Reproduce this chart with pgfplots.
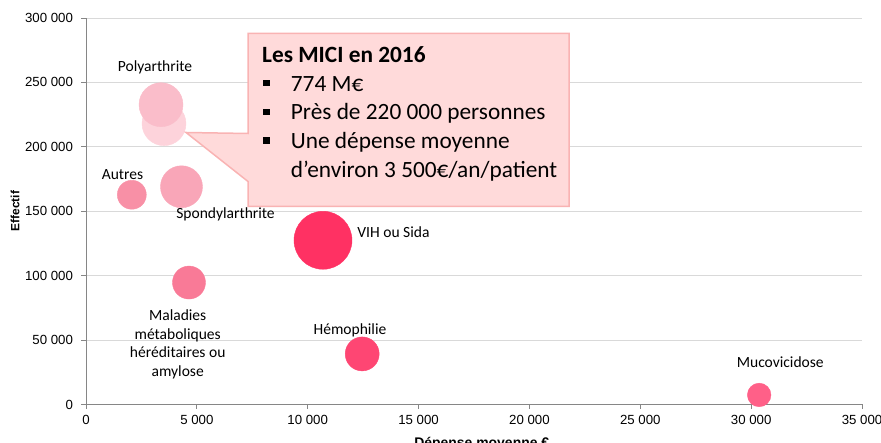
\documentclass[border=0pt]{standalone}
\usepackage{fontspec}
\setmainfont{Liberation Sans}
\newfontfamily\calibri{Carlito}
\usepackage{pgfplots}
\pgfplotsset{compat=1.18}
\definecolor{axisgray}{HTML}{868686}
\definecolor{gridgray}{HTML}{D9D9D9}
\definecolor{cMICI}{HTML}{FDD3DB}
\definecolor{cPoly}{HTML}{FABDCA}
\definecolor{cSpondy}{HTML}{F9A6B8}
\definecolor{cAutres}{HTML}{F890A6}
\definecolor{cMalad}{HTML}{F97A97}
\definecolor{cMuco}{HTML}{FF6088}
\definecolor{cHemo}{HTML}{FE4673}
\definecolor{cVIH}{HTML}{FF3163}
\definecolor{calloutfill}{HTML}{FFDADA}
\definecolor{calloutdraw}{HTML}{F9B3B3}
\newcommand{\labfont}{\calibri\fontsize{15.6}{18.7}\selectfont}
\newcommand{\callfont}{\calibri\fontsize{23.4}{28.7}\selectfont}
\pgfplotsset{bubble/.style={only marks, mark=*, mark size=#1}}
\begin{document}
\begin{tikzpicture}[x=1bp,y=1bp]
\begin{axis}[at={(0,0)}, anchor=south west, scale only axis,
  width=776bp, height=386.5bp,
  xmin=0, xmax=35000, ymin=0, ymax=300000,
  xtick={0,5000,10000,15000,20000,25000,30000,35000},
  xticklabels={0,5 000,10 000,15 000,20 000,25 000,30 000,35 000},
  ytick={0,50000,100000,150000,200000,250000,300000},
  yticklabels={0,50 000,100 000,150 000,200 000,250 000,300 000},
  scaled ticks=false,
  axis x line*=bottom, axis y line*=left,
  axis line style={draw=axisgray, line width=0.75bp},
  ymajorgrids, grid style={draw=gridgray, line width=0.75bp},
  tick align=outside, major tick length=4.5bp,
  tick style={draw=axisgray, line width=0.75bp},
  tick label style={font=\fontsize{13.3}{15}\selectfont},
  yticklabel style={xshift=-5bp},
  xticklabel style={yshift=-3bp},
  xlabel={\textbf{Dépense moyenne €}},
  ylabel={\textbf{Effectif}},
  xlabel style={font=\fontsize{14}{16}\selectfont, at={(axis description cs:0.51,-0.0833)}, anchor=north, inner sep=0pt},
  ylabel style={font=\fontsize{12}{14}\selectfont, at={(axis description cs:-0.0915,0.5)}, anchor=center, inner sep=0pt},
  clip=false,
]
\addplot[bubble=22bp, color=cMICI] coordinates {(3518,218000)};
\addplot[bubble=22bp, color=cPoly] coordinates {(3383,232700)};
\addplot[bubble=14.5bp, color=cAutres] coordinates {(2066,162800)};
\addplot[bubble=21bp, color=cSpondy] coordinates {(4307,169000)};
\addplot[bubble=16.5bp, color=cMalad] coordinates {(4645,94660)};
\addplot[bubble=29bp, color=cVIH] coordinates {(10689,127460)};
\addplot[bubble=17bp, color=cHemo] coordinates {(12457,39250)};
\addplot[bubble=11.8bp, color=cMuco] coordinates {(30362,7400)};
\node[anchor=base, inner sep=0pt, font=\labfont] at (axis cs:3112,258650) {Polyarthrite};
\node[anchor=base, inner sep=0pt, font=\labfont] at (axis cs:1646,174500) {Autres};
\node[anchor=base, inner sep=0pt, font=\labfont] at (axis cs:6292,144700) {Spondylarthrite};
\node[anchor=base west, inner sep=0pt, font=\labfont] at (axis cs:12233,129640) {VIH ou Sida};
\node[anchor=base, inner sep=0pt, font=\labfont] at (axis cs:11906,54000) {Hémophilie};
\node[anchor=base, inner sep=0pt, font=\labfont] at (axis cs:31313,28370) {Mucovicidose};
\node[anchor=base, inner sep=0pt, font=\labfont] at (axis cs:4135,65130) {Maladies};
\node[anchor=base, inner sep=0pt, font=\labfont] at (axis cs:4135,50600) {métaboliques};
\node[anchor=base, inner sep=0pt, font=\labfont] at (axis cs:4135,36300) {héréditaires ou};
\node[anchor=base, inner sep=0pt, font=\labfont] at (axis cs:4135,22000) {amylose};
\end{axis}
% callout
\draw[fill=calloutfill, draw=calloutdraw, line width=1.5bp, line join=miter]
  (162,198) -- (162,223) -- (100,272) -- (162,271) -- (162,371) -- (483,371) -- (483,198) -- cycle;
\node[anchor=base west, inner sep=0pt, font=\callfont\bfseries] at (176,342.3) {Les MICI en 2016};
\node[anchor=base west, inner sep=0pt] at (177,313.3) {\rule[4.7bp]{6.5bp}{6.5bp}};
\node[anchor=base west, inner sep=0pt] at (177,284.5) {\rule[4.7bp]{6.5bp}{6.5bp}};
\node[anchor=base west, inner sep=0pt] at (177,256) {\rule[4.7bp]{6.5bp}{6.5bp}};
\node[anchor=base west, inner sep=0pt, font=\callfont] at (204.7,313.3) {774 M€};
\node[anchor=base west, inner sep=0pt, font=\callfont] at (204.7,284.5) {Près de 220 000 personnes};
\node[anchor=base west, inner sep=0pt, font=\callfont] at (204.7,256) {Une dépense moyenne};
\node[anchor=base west, inner sep=0pt, font=\callfont] at (204.7,227.3) {d’environ 3 500€/an/patient};
\pgfresetboundingbox
\path[use as bounding box] (-86,-38.5) rectangle (795,404.5);
\end{tikzpicture}
\end{document}
